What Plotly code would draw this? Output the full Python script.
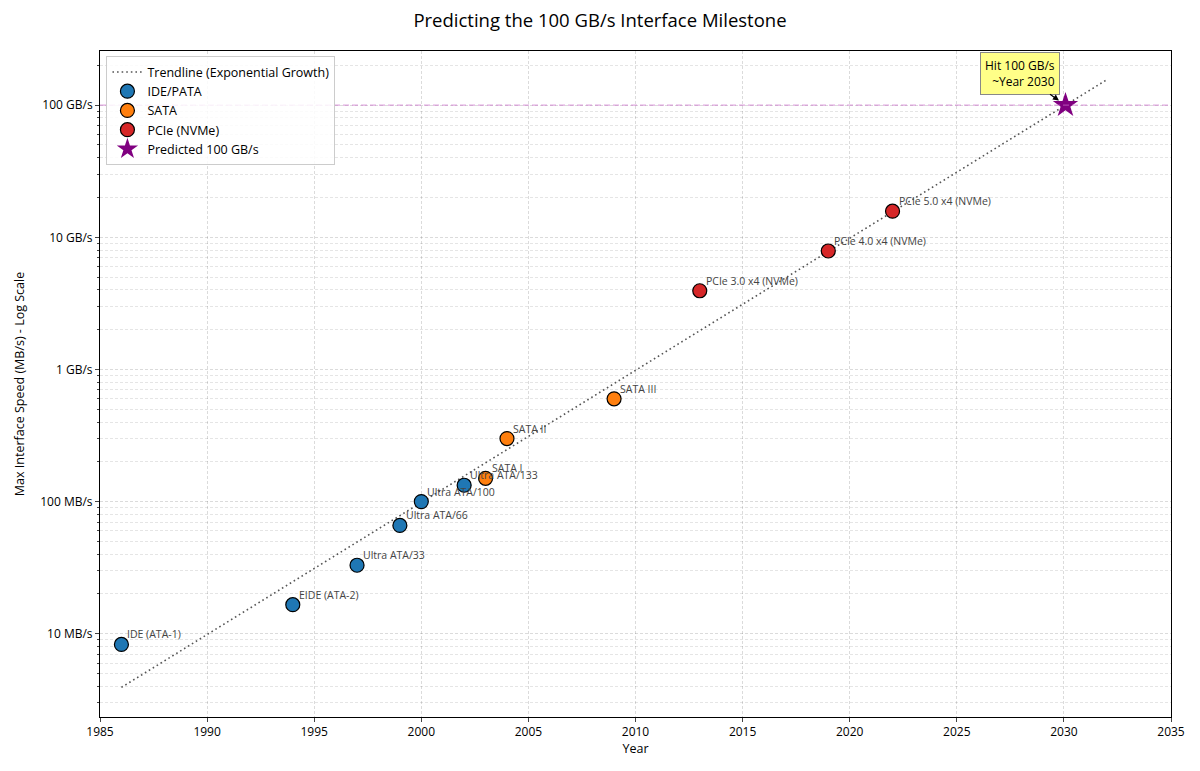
import numpy as np
import plotly.graph_objects as go

# ---- data ----
ide_names = ["IDE (ATA-1)", "EIDE (ATA-2)", "Ultra ATA/33", "Ultra ATA/66", "Ultra ATA/100", "Ultra ATA/133"]
ide_years = [1986, 1994, 1997, 1999, 2000, 2002]
ide_speed = [8.3, 16.6, 33, 66, 100, 133]

sata_names = ["SATA I", "SATA II", "SATA III"]
sata_years = [2003, 2004, 2009]
sata_speed = [150, 300, 600]

pcie_names = ["PCIe 3.0 x4 (NVMe)", "PCIe 4.0 x4 (NVMe)", "PCIe 5.0 x4 (NVMe)"]
pcie_years = [2013, 2019, 2022]
pcie_speed = [3940, 7880, 15760]

target_speed = 100000
trend_start, trend_end = 1986, 2032

ytick_vals = [10, 100, 1000, 10000, 100000]
ytick_text = ["10 MB/s", "100 MB/s", "1 GB/s", "10 GB/s", "100 GB/s"]

# ---- fit ----
all_x = np.array(ide_years + sata_years + pcie_years, dtype=float)
all_y = np.array(ide_speed + sata_speed + pcie_speed, dtype=float)
m, b = np.polyfit(all_x, np.log10(all_y), 1)
pred_year = (np.log10(target_speed) - b) / m
tx = np.linspace(trend_start, trend_end, 100)
ty = 10 ** (m * tx + b)

font = "Open Sans, Roboto, sans-serif"
fig = go.Figure()
fig.add_trace(go.Scatter(x=tx, y=ty, mode="lines", name="Trendline (Exponential Growth)",
                         line=dict(color="#555555", width=1.6, dash="1.6px,3px")))
marker_line = dict(color="black", width=1.2)
fig.add_trace(go.Scatter(x=ide_years, y=ide_speed, mode="markers", name="IDE/PATA",
                         marker=dict(size=14, color="#1f77b4", line=marker_line)))
fig.add_trace(go.Scatter(x=sata_years, y=sata_speed, mode="markers", name="SATA",
                         marker=dict(size=14, color="#ff7f0e", line=marker_line)))
fig.add_trace(go.Scatter(x=pcie_years, y=pcie_speed, mode="markers", name="PCIe (NVMe)",
                         marker=dict(size=14, color="#d62728", line=marker_line)))
fig.add_trace(go.Scatter(x=[pred_year], y=[target_speed], mode="markers", name="Predicted 100 GB/s",
                         marker=dict(size=19, color="purple", symbol="star", line=dict(width=0))))

fig.add_hline(y=target_speed, line=dict(color="rgba(204,110,204,0.6)", width=1.3, dash="6px,3px"))

for names, xs, ys in [(ide_names, ide_years, ide_speed), (sata_names, sata_years, sata_speed),
                      (pcie_names, pcie_years, pcie_speed)]:
    for n, x, y in zip(names, xs, ys):
        fig.add_annotation(x=x, y=np.log10(y), text=n, showarrow=False, xanchor="left",
                           yanchor="bottom", xshift=4, yshift=1,
                           font=dict(size=10.5, color="#444444", family=font))

fig.add_annotation(x=pred_year, y=np.log10(target_speed),
                   text="Hit 100 GB/s<br>  ~Year 2030", align="right",
                   showarrow=True, arrowhead=2, arrowsize=1, arrowwidth=1.2, arrowcolor="black",
                   ax=-45, ay=-32, xanchor="center", yanchor="middle",
                   bgcolor="#ffff88", bordercolor="#888888", borderwidth=1, borderpad=4,
                   font=dict(size=12, color="black", family=font), standoff=8)

minor_vals = [k * 10 ** e for e in range(0, 6) for k in range(2, 10)]
grid_c = "rgba(0,0,0,0.14)"
gdash = "3px,2px"
fig.update_xaxes(range=[1985, 2035], dtick=5, tick0=1985, showline=True, mirror=True,
                 linecolor="black", linewidth=1, ticks="outside", ticklen=4,
                 showgrid=True, gridcolor=grid_c, griddash=gdash, zeroline=False, automargin=False,
                 title=dict(text="Year", font=dict(size=12.5, family=font), standoff=4),
                 tickfont=dict(size=12, family=font, color="black"))
fig.update_yaxes(type="log", range=[0.37, 5.41], tickvals=ytick_vals, ticktext=ytick_text,
                 showline=True, mirror=True, linecolor="black", linewidth=1, ticks="outside", ticklen=4,
                 showgrid=True, gridcolor=grid_c, griddash=gdash, zeroline=False, automargin=False,
                 minor=dict(tickmode="array", tickvals=minor_vals, ticks="outside", ticklen=2,
                            showgrid=True, gridcolor="rgba(0,0,0,0.10)", griddash=gdash),
                 title=dict(text="Max Interface Speed (MB/s) - Log Scale", font=dict(size=12.5, family=font),
                            standoff=12),
                 tickfont=dict(size=12, family=font, color="black"))

fig.update_layout(
    width=1200, height=771, plot_bgcolor="white", paper_bgcolor="white",
    margin=dict(l=100, r=29, t=51, b=54),
    title=dict(text="Predicting the 100 GB/s Interface Milestone", x=0.5, xanchor="center",
               y=0.974, yanchor="middle", font=dict(size=18.5, family=font, color="black")),
    font=dict(family=font, color="black"),
    legend=dict(x=0.006, y=0.992, xanchor="left", yanchor="top", bgcolor="rgba(255,255,255,0.85)",
                bordercolor="#cccccc", borderwidth=1, font=dict(size=12.5, family=font),
                itemsizing="trace", tracegroupgap=0),
    showlegend=True,
)

fig.write_html("out.html")
